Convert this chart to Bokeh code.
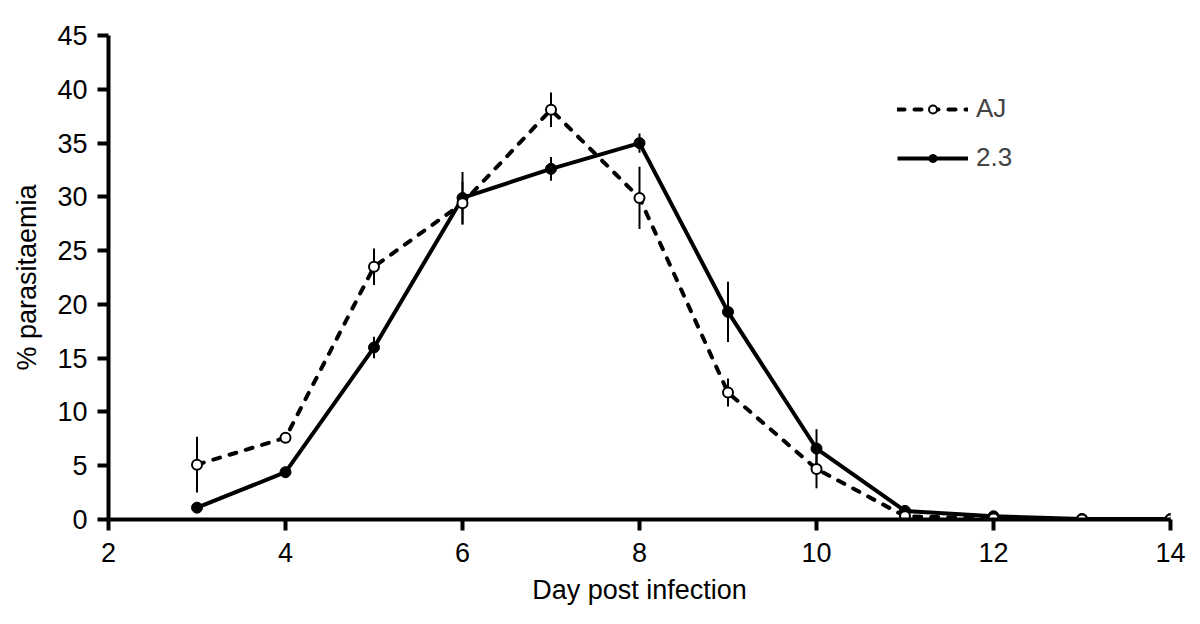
from bokeh.plotting import figure
from bokeh.models import Legend, LegendItem, FixedTicker
from bokeh.embed import file_html
from bokeh.resources import INLINE

days = [3, 4, 5, 6, 7, 8, 9, 10, 11, 12, 13, 14]
aj = [5.1, 7.6, 23.5, 29.4, 38.1, 29.9, 11.8, 4.7, 0.3, 0.1, 0.0, 0.0]
aj_err = [2.6, 0.4, 1.7, 2.0, 1.6, 2.9, 1.3, 1.8, 0.1, 0.0, 0.0, 0.0]
s23 = [1.1, 4.4, 16.0, 29.9, 32.6, 35.0, 19.3, 6.6, 0.8, 0.3, 0.05, 0.05]
s23_err = [0.2, 0.2, 1.0, 2.4, 1.1, 0.9, 2.8, 1.8, 0.1, 0.1, 0.0, 0.0]
x_ticks = [2, 4, 6, 8, 10, 12, 14]
y_ticks = [0, 5, 10, 15, 20, 25, 30, 35, 40, 45]

FONT = "Liberation Sans"

p = figure(width=1192, height=616, x_range=(2, 14), y_range=(0, 45),
           output_backend="svg", toolbar_location=None,
           min_border_left=108, min_border_right=22, min_border_top=35,
           min_border_bottom=97)
p.outline_line_color = None
p.xgrid.visible = False
p.ygrid.visible = False

for ax in (p.xaxis[0], p.yaxis[0]):
    ax.axis_line_width = 4
    ax.major_tick_line_width = 4
    ax.major_tick_out = 11
    ax.major_tick_in = 0
    ax.minor_tick_line_color = None
    ax.major_label_text_font = FONT
    ax.major_label_text_font_size = "27px"
    ax.major_label_text_color = "black"
    ax.axis_label_text_font = FONT
    ax.axis_label_text_font_size = "27px"
    ax.axis_label_text_font_style = "normal"
    ax.axis_label_text_color = "black"

p.xaxis.ticker = FixedTicker(ticks=x_ticks)
p.yaxis.ticker = FixedTicker(ticks=y_ticks)
p.xaxis.axis_label = "Day post infection"
p.yaxis.axis_label = "% parasitaemia"
p.xaxis.major_label_standoff = 12
p.yaxis.major_label_standoff = 10
p.xaxis.axis_label_standoff = 10
p.yaxis.axis_label_standoff = 12

# error bars
p.segment(x0=days, x1=days, y0=[v - e for v, e in zip(aj, aj_err)],
          y1=[v + e for v, e in zip(aj, aj_err)], line_color="black", line_width=2)
p.segment(x0=days, x1=days, y0=[v - e for v, e in zip(s23, s23_err)],
          y1=[v + e for v, e in zip(s23, s23_err)], line_color="black", line_width=2)

l23 = p.line(days, s23, line_color="black", line_width=4)
laj = p.line(days, aj, line_color="black", line_width=4, line_dash="7 10", line_cap="round")
m23 = p.scatter(days, s23, marker="circle", size=11, fill_color="black", line_color="black")
maj = p.scatter(days, aj, marker="circle", size=10, fill_color="white", line_color="black", line_width=2)

legend = Legend(items=[LegendItem(label="AJ", renderers=[laj, maj]),
                       LegendItem(label="2.3", renderers=[l23, m23])],
                location=(789, 346), orientation="vertical")
legend.border_line_color = None
legend.background_fill_alpha = 0
legend.padding = 0
legend.margin = 0
legend.spacing = 18
legend.glyph_width = 71
legend.glyph_height = 20
legend.label_standoff = 8
legend.label_text_font = FONT
legend.label_text_font_size = "26px"
legend.label_height = 20
p.add_layout(legend, "center")

open("out.html", "w").write(file_html(p, INLINE))
